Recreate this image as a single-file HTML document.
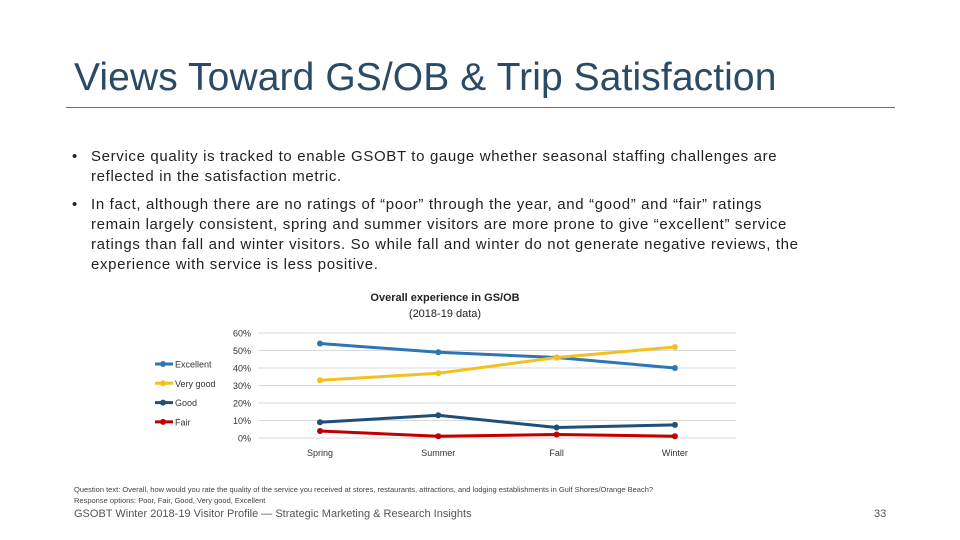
<!DOCTYPE html>
<html><head><meta charset="utf-8"><style>
body{margin:0;width:960px;height:540px;background:#fff;font-family:"Liberation Sans",sans-serif;position:relative;overflow:hidden}
.abs{position:absolute}
#title{left:74px;top:56px;font-size:39px;color:#2a4a66;letter-spacing:0.1px;font-weight:normal}
#rule{left:66px;top:107px;width:829px;height:1px;background:#4a7a86}
.b{left:70px;font-size:15px;letter-spacing:0.65px;color:#222;line-height:20px;white-space:nowrap;padding-left:21px}
.b:before{content:"•";position:absolute;left:2px}
</style></head><body>
<div class="abs" id="title">Views Toward GS/OB &amp; Trip Satisfaction</div>
<div class="abs" id="rule"></div>
<div class="abs b" style="top:147px">Service quality is tracked to enable GSOBT to gauge whether seasonal staffing challenges are<br>reflected in the satisfaction metric.</div>
<div class="abs b" style="top:195px">In fact, although there are no ratings of “poor” through the year, and “good” and “fair” ratings<br>remain largely consistent, spring and summer visitors are more prone to give “excellent” service<br>ratings than fall and winter visitors. So while fall and winter do not generate negative reviews, the<br>experience with service is less positive.</div>
<svg class="abs" style="left:0;top:0" width="960" height="540" id="chart"></svg>
<div class="abs" style="left:74px;top:484px;font-size:7.5px;color:#444;line-height:11px">Question text: Overall, how would you rate the quality of the service you received at stores, restaurants, attractions, and lodging establishments in Gulf Shores/Orange Beach?<br>Response options: Poor, Fair, Good, Very good, Excellent</div>
<div class="abs" style="left:74px;top:508px;font-size:11px;color:#555">GSOBT Winter 2018-19 Visitor Profile — Strategic Marketing &amp; Research Insights</div>
<div class="abs" style="left:874px;top:508px;font-size:11px;color:#555">33</div>
<script>
const categories=["Spring","Summer","Fall","Winter"];
const seriesNames=["Excellent","Very good","Good","Fair"];
const excellent=[54,49,46,40];
const veryGood=[33,37,46,52];
const good=[9,13,6,7.5];
const fair=[4,1,2,1];
const yTicks=[0,10,20,30,40,50,60];
const series=[excellent,veryGood,good,fair];
const colors=["#2e75b6","#f4c020","#1f4e79","#c00000"];
const svg=document.getElementById('chart');
const NS="http://www.w3.org/2000/svg";
function y(v){return 438-v*(105/60);}
function x(i){return 320+i*118.3;}
function mk(t,a){const e=document.createElementNS(NS,t);for(const k in a)e.setAttribute(k,a[k]);svg.appendChild(e);return e;}
let t=mk('text',{x:445,y:301,'font-size':11,'text-anchor':'middle',fill:'#222','font-weight':'bold'});t.textContent="Overall experience in GS/OB";

t=mk('text',{x:445,y:317,'font-size':11,'text-anchor':'middle',fill:'#222'});t.textContent="(2018-19 data)";

yTicks.forEach(v=>{
 const l=mk('line',{x1:258,x2:736,y1:y(v),y2:y(v),stroke:'#d9d9d9','stroke-width':1});
 
 const tx=mk('text',{x:251,y:y(v)+3.5,'font-size':9,'text-anchor':'end',fill:'#333'});tx.textContent=v+"%";
 
});
categories.forEach((c,i)=>{
 const tx=mk('text',{x:x(i),y:456,'font-size':9,'text-anchor':'middle',fill:'#333'});tx.textContent=c;
 
});
series.forEach((s,k)=>{
 const p=mk('polyline',{points:s.map((v,i)=>x(i)+','+y(v)).join(' '),fill:'none',stroke:colors[k],'stroke-width':3});
 
 s.forEach((v,i)=>{const c=mk('circle',{cx:x(i),cy:y(v),r:3,fill:colors[k]});
  });
 const ly=364+k*19.3;
 const ll=mk('line',{x1:155,x2:173,y1:ly,y2:ly,stroke:colors[k],'stroke-width':3});
 
 const lc=mk('circle',{cx:163,cy:ly,r:3,fill:colors[k]});
 
 const lt=mk('text',{x:175,y:ly+3.5,'font-size':9,fill:'#333'});lt.textContent=seriesNames[k];
 
});
</script>
</body></html>
